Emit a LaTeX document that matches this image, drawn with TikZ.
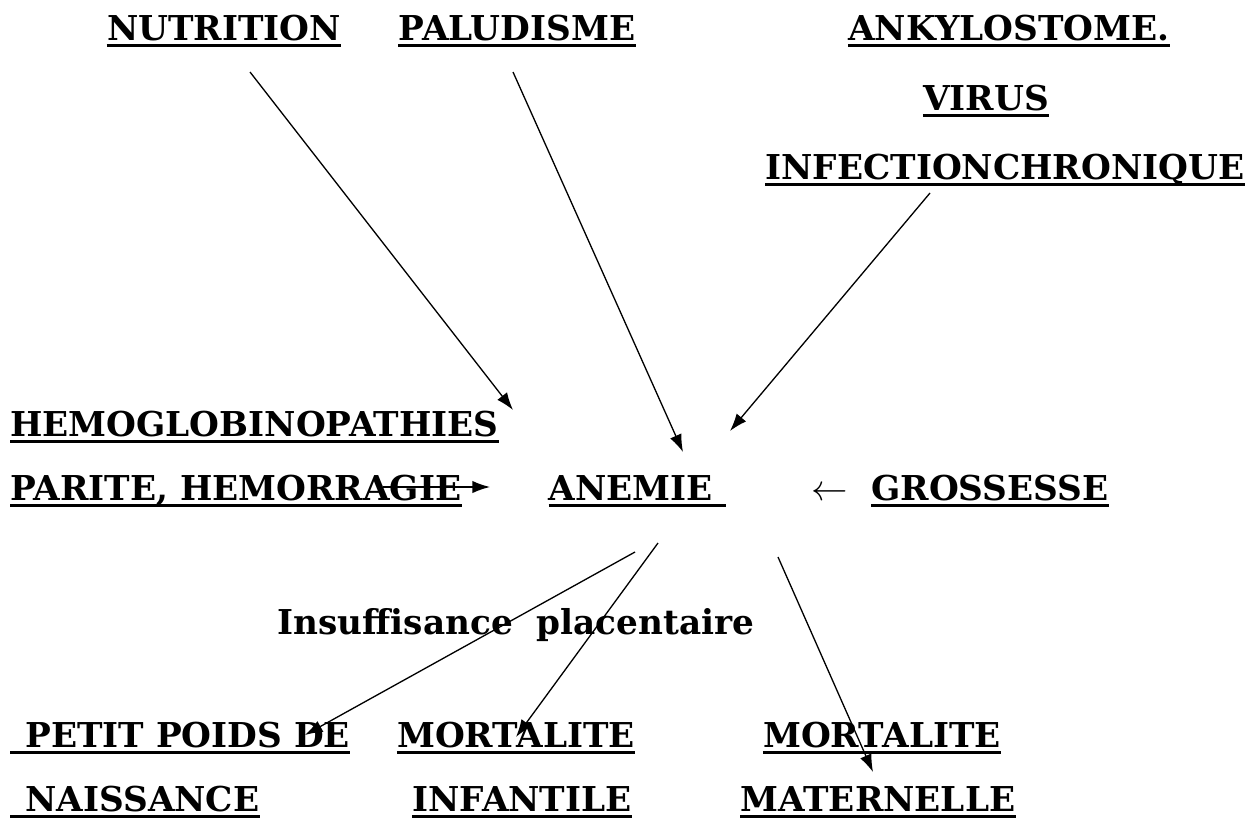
\documentclass[tikz,border=0pt]{standalone}
\usepackage{fontspec}
\setmainfont{DejaVu Serif}
\usetikzlibrary{arrows.meta,calc}
\begin{document}
\begin{tikzpicture}[x=0.02cm,y=-0.02cm,
  lbl/.style={inner sep=0pt, anchor=base, text depth=0pt, font=\fontsize{19.5}{22}\selectfont\bfseries},
  lblw/.style={lbl, anchor=base west},
  ul/.style={line width=1.7pt},
  arr/.style={line width=0.75pt,-{Latex[length=10pt,width=7pt]}}]
\useasboundingbox (0,0) rectangle (1248,835);

% top row
\node[lbl] (nut) at (224,40) {NUTRITION};
\node[lbl] (pal) at (517,40) {PALUDISME};
\node[lbl] (ank) at (1009,40) {ANKYLOSTOME.};
\node[lbl] (vir) at (986,110) {VIRUS};
\node[lbl] (inf) at (1005,179) {INFECTIONCHRONIQUE};

% middle
\node[lblw] (hem) at (10,436) {HEMOGLOBINOPATHIES};
\node[lblw] (par) at (10,500) {PARITE, HEMORRAGIE};
\node[lbl] (ane) at (631,500) {ANEMIE};
\node[inner sep=0pt, anchor=base, font=\fontsize{19.5}{22}\selectfont] (larr) at (830,500) {$\leftarrow$};
\node[lbl] (gro) at (990,500) {GROSSESSE};
\node[lbl] (ins) at (516,634) {Insuffisance\ \ placentaire};

% bottom
\node[lblw] (pet) at (25,747) {PETIT POIDS DE};
\node[lblw] (nai) at (25,811) {NAISSANCE};
\node[lbl] (mi) at (516,747) {MORTALITE};
\node[lbl] (inft) at (522,811) {INFANTILE};
\node[lbl] (mm) at (882,747) {MORTALITE};
\node[lbl] (mat) at (878,811) {MATERNELLE};

% underlines
\foreach \n in {nut,pal,ank,vir,inf,hem,par,gro,mi,inft,mm,mat}
  \draw[ul] ($(\n.south west)+(0,5)$) -- ($(\n.south east)+(0,5)$);
\draw[ul] ($(ane.south west)+(0,5)$) -- ($(ane.south east)+(13,5)$);
\draw[ul] ($(pet.south west)+(-15,5)$) -- ($(pet.south east)+(0,5)$);
\draw[ul] ($(nai.south west)+(-15,5)$) -- ($(nai.south east)+(0,5)$);

% arrow end points
\coordinate (nutS) at (250,72);
\coordinate (nutT) at (513,410);
\coordinate (palS) at (513,72);
\coordinate (palT) at (683,452);
\coordinate (infS) at (930,193);
\coordinate (infT) at (730,431);
\coordinate (parS) at (383,487);
\coordinate (parT) at (490,487);
\coordinate (a1) at (635,552);
\coordinate (a2) at (658,543);
\coordinate (a3) at (778,557);
\coordinate (petT) at (305,735);
\coordinate (miT) at (516,737);
\coordinate (mmT) at (873,772);

\draw[arr] (nutS) -- (nutT);
\draw[arr] (palS) -- (palT);
\draw[arr] (infS) -- (infT);
\draw[arr] (parS) -- (parT);
\draw[arr] (a1) -- (petT);
\draw[arr] (a2) -- (miT);
\draw[arr] (a3) -- (mmT);
\end{tikzpicture}
\end{document}
